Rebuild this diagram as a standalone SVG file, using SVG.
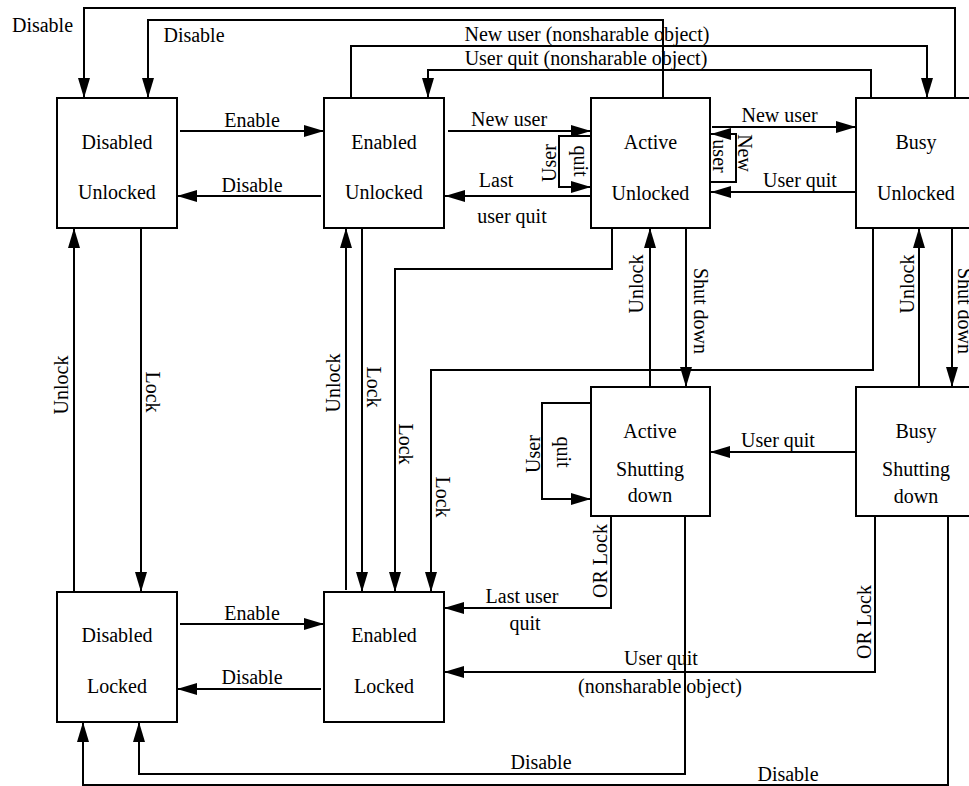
<svg xmlns="http://www.w3.org/2000/svg" width="969" height="786" viewBox="0 0 969 786">
<style>
.box{fill:#fff;stroke:#000;stroke-width:2}
.e{fill:none;stroke:#000;stroke-width:2}
.a{marker-end:url(#ah)}
text{font-family:"Liberation Serif","Times New Roman",serif;font-size:20px;fill:#000}
.m{text-anchor:middle}
</style>
<defs>
<marker id="ah" markerWidth="20" markerHeight="12" refX="20" refY="6" orient="auto" markerUnits="userSpaceOnUse"><path d="M0,0 L20,6 L0,12 z" fill="#000"/></marker>
</defs>
<rect width="969" height="786" fill="#fff"/>
<g id="nodes">
<g id="disabled-unlocked"><rect class="box" x="57" y="98" width="120" height="130"/><text class="m" x="117" y="149">Disabled</text><text class="m" x="117" y="199">Unlocked</text></g>
<g id="enabled-unlocked"><rect class="box" x="324" y="98" width="120" height="130"/><text class="m" x="384" y="149">Enabled</text><text class="m" x="384" y="199">Unlocked</text></g>
<g id="active-unlocked"><rect class="box" x="591" y="98" width="119" height="130"/><text class="m" x="650.5" y="149">Active</text><text class="m" x="650.5" y="200">Unlocked</text></g>
<g id="busy-unlocked"><rect class="box" x="856" y="98" width="120" height="130"/><text class="m" x="916" y="149">Busy</text><text class="m" x="916" y="200">Unlocked</text></g>
<g id="active-shutting-down"><rect class="box" x="591" y="387" width="119" height="129"/><text class="m" x="650" y="438">Active</text><text class="m" x="650" y="476">Shutting</text><text class="m" x="650" y="502">down</text></g>
<g id="busy-shutting-down"><rect class="box" x="856" y="387" width="120" height="129"/><text class="m" x="916" y="438">Busy</text><text class="m" x="916" y="476">Shutting</text><text class="m" x="916" y="503">down</text></g>
<g id="disabled-locked"><rect class="box" x="57" y="592" width="120" height="130"/><text class="m" x="117" y="642">Disabled</text><text class="m" x="117" y="693">Locked</text></g>
<g id="enabled-locked"><rect class="box" x="324" y="592" width="120" height="130"/><text class="m" x="384" y="642">Enabled</text><text class="m" x="384" y="693">Locked</text></g>
</g>
<g id="connectors">
<path class="e a" d="M180,131 H324"/>
<path class="e a" d="M321,196 H177"/>
<path class="e a" d="M448,131 H591"/>
<path class="e a" d="M591,196 H445"/>
<path class="e a" d="M591,136 H559 V187 H591"/>
<path class="e a" d="M712,127 H856"/>
<path class="e a" d="M856,192 H711"/>
<path class="e a" d="M711,182 H736 V134 H711"/>
<path class="e a" d="M955,98 V8 H84 V98"/>
<path class="e a" d="M663,98 V20 H148 V98"/>
<path class="e a" d="M351,98 V46 H927 V98"/>
<path class="e a" d="M871,98 V70 H428 V98"/>
<path class="e a" d="M74,592 V228"/>
<path class="e a" d="M141,228 V592"/>
<path class="e a" d="M346,590 V228"/>
<path class="e a" d="M362,228 V592"/>
<path class="e a" d="M612,228 V269 H395 V592"/>
<path class="e a" d="M873,228 V370 H431 V592"/>
<path class="e a" d="M650,387 V228"/>
<path class="e a" d="M686,228 V387"/>
<path class="e a" d="M919,387 V228"/>
<path class="e a" d="M952,228 V387"/>
<path class="e a" d="M591,403 H542 V499 H591"/>
<path class="e a" d="M856,452 H710"/>
<path class="e a" d="M611,516 V608 H444"/>
<path class="e a" d="M685,516 V774 H139 V722"/>
<path class="e a" d="M948,516 V785 H83 V722"/>
<path class="e a" d="M875,516 V672 H444"/>
<path class="e a" d="M180,624 H324"/>
<path class="e a" d="M321,689 H177"/>
</g>
<g id="labels">
<text class="m" x="42.5" y="32">Disable</text>
<text class="m" x="194" y="42">Disable</text>
<text class="m" x="587" y="41">New user (nonsharable object)</text>
<text class="m" x="586" y="65">User quit (nonsharable object)</text>
<text class="m" x="252" y="127">Enable</text>
<text class="m" x="252" y="192">Disable</text>
<text class="m" x="509" y="126">New user</text>
<text class="m" x="496" y="187">Last</text>
<text class="m" x="512" y="223">user quit</text>
<text class="m" transform="translate(556,163) rotate(-90)">User</text>
<text class="m" transform="translate(574,161) rotate(90)">quit</text>
<text class="m" x="779.5" y="122">New user</text>
<text class="m" x="800" y="187">User quit</text>
<text class="m" transform="translate(713,156) rotate(90)">user</text>
<text class="m" transform="translate(738,153) rotate(90)">New</text>
<text class="m" transform="translate(68,385) rotate(-90)">Unlock</text>
<text class="m" transform="translate(146,392) rotate(90)">Lock</text>
<text class="m" transform="translate(340,383) rotate(-90)">Unlock</text>
<text class="m" transform="translate(367,387) rotate(90)">Lock</text>
<text class="m" transform="translate(399,444) rotate(90)">Lock</text>
<text class="m" transform="translate(436,497) rotate(90)">Lock</text>
<text class="m" transform="translate(643,284) rotate(-90)">Unlock</text>
<text class="m" transform="translate(694,311) rotate(90)">Shut down</text>
<text class="m" transform="translate(914,284) rotate(-90)">Unlock</text>
<text class="m" transform="translate(958,311) rotate(90)">Shut down</text>
<text class="m" transform="translate(540,454) rotate(-90)">User</text>
<text class="m" transform="translate(557,452) rotate(90)">quit</text>
<text class="m" x="778" y="447">User quit</text>
<text class="m" transform="translate(607,561) rotate(-90)">OR Lock</text>
<text class="m" x="522" y="603">Last user</text>
<text class="m" x="525" y="630">quit</text>
<text class="m" x="541" y="769">Disable</text>
<text class="m" x="788" y="781">Disable</text>
<text class="m" transform="translate(871,622) rotate(-90)">OR Lock</text>
<text class="m" x="661" y="665">User quit</text>
<text class="m" x="660" y="693">(nonsharable object)</text>
<text class="m" x="252" y="620">Enable</text>
<text class="m" x="252" y="684">Disable</text>
</g>
</svg>
